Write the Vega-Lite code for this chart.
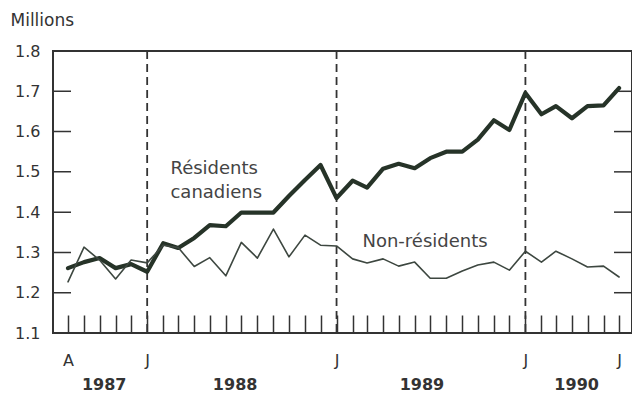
{
  "$schema": "https://vega.github.io/schema/vega-lite/v6.json",
  "width": 579,
  "height": 282,
  "autosize": {"type": "none"},
  "padding": {"left": 53, "top": 51, "right": 0, "bottom": 74},
  "background": "white",
  "config": {
    "font": "DejaVu Sans",
    "view": {"stroke": "#333", "strokeWidth": 2},
    "axis": {"grid": false, "domainColor": "#333", "domainWidth": 2, "tickColor": "#333", "tickWidth": 1.5, "labelColor": "#333", "labelFontSize": 16, "labelFont": "DejaVu Sans"}
  },
  "datasets": {
    "series": [
      {"date": "1987-08-01", "serie": "Résidents canadiens", "v": 1.261},
      {"date": "1987-09-01", "serie": "Résidents canadiens", "v": 1.276},
      {"date": "1987-10-01", "serie": "Résidents canadiens", "v": 1.286},
      {"date": "1987-11-01", "serie": "Résidents canadiens", "v": 1.261},
      {"date": "1987-12-01", "serie": "Résidents canadiens", "v": 1.271},
      {"date": "1988-01-01", "serie": "Résidents canadiens", "v": 1.252},
      {"date": "1988-02-01", "serie": "Résidents canadiens", "v": 1.323},
      {"date": "1988-03-01", "serie": "Résidents canadiens", "v": 1.311},
      {"date": "1988-04-01", "serie": "Résidents canadiens", "v": 1.336},
      {"date": "1988-05-01", "serie": "Résidents canadiens", "v": 1.368},
      {"date": "1988-06-01", "serie": "Résidents canadiens", "v": 1.365},
      {"date": "1988-07-01", "serie": "Résidents canadiens", "v": 1.399},
      {"date": "1988-08-01", "serie": "Résidents canadiens", "v": 1.399},
      {"date": "1988-09-01", "serie": "Résidents canadiens", "v": 1.399},
      {"date": "1988-10-01", "serie": "Résidents canadiens", "v": 1.44},
      {"date": "1988-11-01", "serie": "Résidents canadiens", "v": 1.48},
      {"date": "1988-12-01", "serie": "Résidents canadiens", "v": 1.517},
      {"date": "1989-01-01", "serie": "Résidents canadiens", "v": 1.435},
      {"date": "1989-02-01", "serie": "Résidents canadiens", "v": 1.478},
      {"date": "1989-03-01", "serie": "Résidents canadiens", "v": 1.461},
      {"date": "1989-04-01", "serie": "Résidents canadiens", "v": 1.508},
      {"date": "1989-05-01", "serie": "Résidents canadiens", "v": 1.52},
      {"date": "1989-06-01", "serie": "Résidents canadiens", "v": 1.509},
      {"date": "1989-07-01", "serie": "Résidents canadiens", "v": 1.534},
      {"date": "1989-08-01", "serie": "Résidents canadiens", "v": 1.55},
      {"date": "1989-09-01", "serie": "Résidents canadiens", "v": 1.55},
      {"date": "1989-10-01", "serie": "Résidents canadiens", "v": 1.58},
      {"date": "1989-11-01", "serie": "Résidents canadiens", "v": 1.628},
      {"date": "1989-12-01", "serie": "Résidents canadiens", "v": 1.604},
      {"date": "1990-01-01", "serie": "Résidents canadiens", "v": 1.696},
      {"date": "1990-02-01", "serie": "Résidents canadiens", "v": 1.643},
      {"date": "1990-03-01", "serie": "Résidents canadiens", "v": 1.663},
      {"date": "1990-04-01", "serie": "Résidents canadiens", "v": 1.633},
      {"date": "1990-05-01", "serie": "Résidents canadiens", "v": 1.663},
      {"date": "1990-06-01", "serie": "Résidents canadiens", "v": 1.665},
      {"date": "1990-07-01", "serie": "Résidents canadiens", "v": 1.708},
      {"date": "1987-08-01", "serie": "Non-résidents", "v": 1.227},
      {"date": "1987-09-01", "serie": "Non-résidents", "v": 1.313},
      {"date": "1987-10-01", "serie": "Non-résidents", "v": 1.281},
      {"date": "1987-11-01", "serie": "Non-résidents", "v": 1.234},
      {"date": "1987-12-01", "serie": "Non-résidents", "v": 1.281},
      {"date": "1988-01-01", "serie": "Non-résidents", "v": 1.274},
      {"date": "1988-02-01", "serie": "Non-résidents", "v": 1.318},
      {"date": "1988-03-01", "serie": "Non-résidents", "v": 1.312},
      {"date": "1988-04-01", "serie": "Non-résidents", "v": 1.265},
      {"date": "1988-05-01", "serie": "Non-résidents", "v": 1.287},
      {"date": "1988-06-01", "serie": "Non-résidents", "v": 1.242},
      {"date": "1988-07-01", "serie": "Non-résidents", "v": 1.325},
      {"date": "1988-08-01", "serie": "Non-résidents", "v": 1.286},
      {"date": "1988-09-01", "serie": "Non-résidents", "v": 1.358},
      {"date": "1988-10-01", "serie": "Non-résidents", "v": 1.289},
      {"date": "1988-11-01", "serie": "Non-résidents", "v": 1.343},
      {"date": "1988-12-01", "serie": "Non-résidents", "v": 1.318},
      {"date": "1989-01-01", "serie": "Non-résidents", "v": 1.316},
      {"date": "1989-02-01", "serie": "Non-résidents", "v": 1.284},
      {"date": "1989-03-01", "serie": "Non-résidents", "v": 1.274},
      {"date": "1989-04-01", "serie": "Non-résidents", "v": 1.284},
      {"date": "1989-05-01", "serie": "Non-résidents", "v": 1.266},
      {"date": "1989-06-01", "serie": "Non-résidents", "v": 1.276},
      {"date": "1989-07-01", "serie": "Non-résidents", "v": 1.236},
      {"date": "1989-08-01", "serie": "Non-résidents", "v": 1.236},
      {"date": "1989-09-01", "serie": "Non-résidents", "v": 1.254},
      {"date": "1989-10-01", "serie": "Non-résidents", "v": 1.269},
      {"date": "1989-11-01", "serie": "Non-résidents", "v": 1.276},
      {"date": "1989-12-01", "serie": "Non-résidents", "v": 1.256},
      {"date": "1990-01-01", "serie": "Non-résidents", "v": 1.303},
      {"date": "1990-02-01", "serie": "Non-résidents", "v": 1.276},
      {"date": "1990-03-01", "serie": "Non-résidents", "v": 1.303},
      {"date": "1990-04-01", "serie": "Non-résidents", "v": 1.284},
      {"date": "1990-05-01", "serie": "Non-résidents", "v": 1.264},
      {"date": "1990-06-01", "serie": "Non-résidents", "v": 1.266},
      {"date": "1990-07-01", "serie": "Non-résidents", "v": 1.239}
    ],
    "janvier": [
      {"date": "1988-01-01"},
      {"date": "1989-01-01"},
      {"date": "1990-01-01"}
    ],
    "notes": [
      {"date": "1988-02-15", "v": 1.507, "texte": "Résidents"},
      {"date": "1988-02-15", "v": 1.447, "texte": "canadiens"},
      {"date": "1989-02-20", "v": 1.326, "texte": "Non-résidents"}
    ],
    "annees": [
      {"date": "1987-10-10", "v": 0.971, "annee": "1987"},
      {"date": "1988-06-19", "v": 0.971, "annee": "1988"},
      {"date": "1989-06-15", "v": 0.971, "annee": "1989"},
      {"date": "1990-04-10", "v": 0.971, "annee": "1990"}
    ]
  },
  "resolve": {"axis": {"y": "independent", "x": "independent"}},
  "layer": [
    {
      "data": {"name": "janvier"},
      "mark": {"type": "rule", "color": "#333", "strokeWidth": 1.8, "strokeDash": [8, 5]},
      "encoding": {
        "x": {
          "field": "date", "type": "temporal",
          "scale": {"type": "utc", "domain": ["1987-07-03", "1990-07-26"]},
          "axis": {
            "orient": "bottom", "title": null, "ticks": false, "domain": false,
            "values": [
              {"year": 1987, "month": 8, "date": 1, "utc": true},
              {"year": 1988, "month": 1, "date": 1, "utc": true},
              {"year": 1989, "month": 1, "date": 1, "utc": true},
              {"year": 1990, "month": 1, "date": 1, "utc": true},
              {"year": 1990, "month": 7, "date": 1, "utc": true}
            ],
            "labelPadding": 19, "labelOverlap": false, "labelFlush": false,
            "labelExpr": "utcmonth(datum.value) == 7 ? 'A' : 'J'"
          }
        }
      }
    },
    {
      "data": {"values": [{"g": 1.2}, {"g": 1.3}, {"g": 1.4}, {"g": 1.5}, {"g": 1.6}, {"g": 1.7}]},
      "mark": {"type": "rule", "stroke": "#333", "strokeWidth": 1.5, "strokeDash": [18, 2000]},
      "encoding": {
        "y": {"field": "g", "type": "quantitative", "axis": null}
      }
    },
    {
      "data": {"values": [{"g": 1.2}, {"g": 1.3}, {"g": 1.4}, {"g": 1.5}, {"g": 1.6}, {"g": 1.7}]},
      "mark": {"type": "rule", "stroke": "#333", "strokeWidth": 1.5, "strokeDash": [0, 561, 18, 2000]},
      "encoding": {
        "y": {"field": "g", "type": "quantitative", "axis": null}
      }
    },
    {
      "data": {"name": "series"},
      "mark": {"type": "line", "strokeJoin": "round", "strokeCap": "round"},
      "encoding": {
        "x": {
          "field": "date", "type": "temporal",
          "scale": {"type": "utc", "domain": ["1987-07-03", "1990-07-26"]},
          "axis": {
            "orient": "top", "offset": -282, "title": null, "domain": false, "labels": false,
            "tickCount": {"interval": "month", "step": 1}, "tickSize": 18
          }
        },
        "y": {
          "field": "v", "type": "quantitative",
          "scale": {"domain": [1.1, 1.8], "zero": false, "nice": false},
          "axis": null
        },
        "color": {"field": "serie", "type": "nominal", "scale": {"domain": ["Résidents canadiens", "Non-résidents"], "range": ["#263328", "#3d4740"]}, "legend": null},
        "strokeWidth": {"field": "serie", "type": "nominal", "scale": {"domain": ["Résidents canadiens", "Non-résidents"], "range": [4.2, 1.6]}, "legend": null}
      }
    },
    {
      "data": {"name": "notes"},
      "mark": {"type": "text", "align": "left", "baseline": "middle", "fontSize": 18, "color": "#444"},
      "encoding": {
        "x": {"field": "date", "type": "temporal", "axis": null},
        "y": {
          "field": "v", "type": "quantitative",
          "axis": {
            "orient": "left", "values": [1.1, 1.2, 1.3, 1.4, 1.5, 1.6, 1.7, 1.8], "format": ".1f",
            "ticks": false, "labelPadding": 13, "domain": false,
            "title": "Millions", "titleAngle": 0, "titleAlign": "left", "titleBaseline": "middle",
            "titleX": -43, "titleY": -31, "titleFontSize": 17, "titleFontWeight": "normal", "titleColor": "#333", "titleFont": "DejaVu Sans"
          }
        },
        "text": {"field": "texte"}
      }
    },
    {
      "data": {"name": "annees"},
      "mark": {"type": "text", "align": "center", "baseline": "middle", "fontSize": 16, "fontWeight": "bold", "color": "#333"},
      "encoding": {
        "x": {"field": "date", "type": "temporal", "axis": null},
        "y": {"field": "v", "type": "quantitative", "axis": null},
        "text": {"field": "annee"}
      }
    }
  ]
}
